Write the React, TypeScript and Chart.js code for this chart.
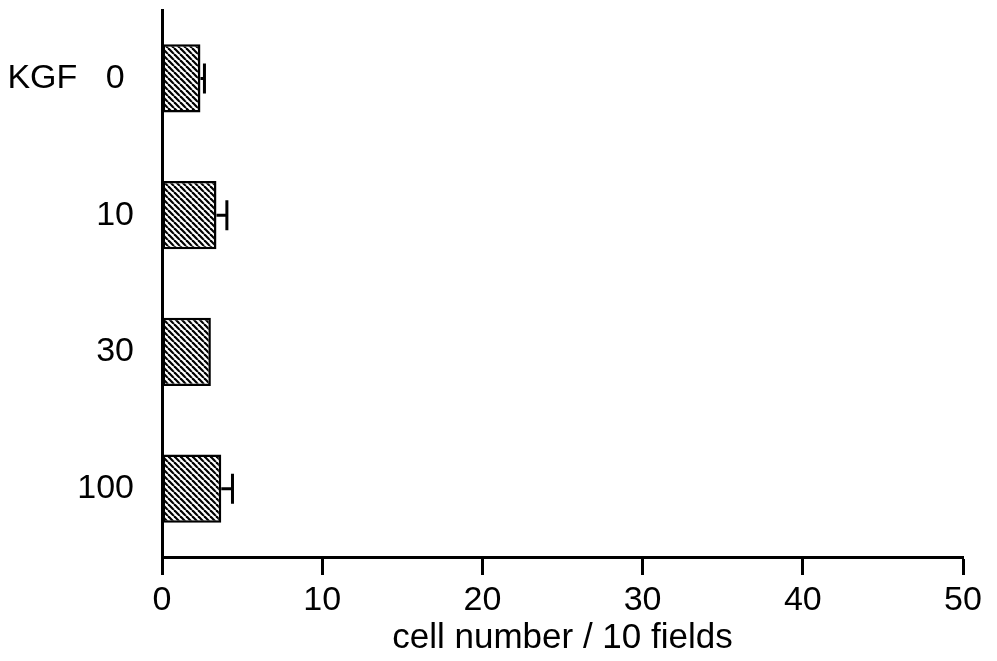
import React, { useEffect, useRef } from "react";
import { Chart, registerables } from "chart.js";

Chart.register(...registerables);

const categories = ["KGF   0 ", "10", "30", "100"];
const cellCounts = [2.4, 3.4, 3.05, 3.7];
const errors = [0.25, 0.65, 0, 0.7];
const xTicks = [0, 10, 20, 30, 40, 50];

function makePattern(): CanvasPattern | string {
  const s = 6;
  const c = document.createElement("canvas");
  c.width = s;
  c.height = s;
  const ctx = c.getContext("2d");
  if (!ctx) return "#888";
  ctx.fillStyle = "#fff";
  ctx.fillRect(0, 0, s, s);
  ctx.strokeStyle = "#000";
  ctx.lineWidth = 2.2;
  for (const k of [-s, 0, s]) {
    ctx.beginPath();
    ctx.moveTo(k, 0);
    ctx.lineTo(k + s, s);
    ctx.stroke();
  }
  return ctx.createPattern(c, "repeat") || "#888";
}

const errorBarPlugin = {
  id: "errorBars",
  afterDatasetsDraw(chart: any) {
    const ctx = chart.ctx;
    const meta = chart.getDatasetMeta(0);
    const xs = chart.scales.x;
    ctx.save();
    ctx.strokeStyle = "#000";
    ctx.lineWidth = 3;
    meta.data.forEach((bar: any, i: number) => {
      const e = errors[i];
      if (!e) return;
      const v = cellCounts[i];
      const x0 = xs.getPixelForValue(v);
      const x1 = xs.getPixelForValue(v + e);
      const y = bar.y;
      ctx.beginPath();
      ctx.moveTo(x0, y);
      ctx.lineTo(x1, y);
      ctx.moveTo(x1, y - 15);
      ctx.lineTo(x1, y + 15);
      ctx.stroke();
    });
    ctx.restore();
  },
};

export default function App() {
  const ref = useRef<HTMLCanvasElement | null>(null);
  useEffect(() => {
    if (!ref.current) return;
    const fam = "'Liberation Sans', Arial, sans-serif";
    const chart = new Chart(ref.current, {
      type: "bar",
      data: {
        labels: categories,
        datasets: [
          {
            data: cellCounts,
            backgroundColor: makePattern() as any,
            borderColor: "#000",
            borderWidth: 2.5,
            borderSkipped: false,
            barPercentage: 0.5,
            categoryPercentage: 1,
          },
        ],
      },
      options: {
        indexAxis: "y",
        animation: false,
        responsive: false,
        layout: { padding: { top: 10, right: 34, left: 0, bottom: 0 } },
        plugins: { legend: { display: false }, tooltip: { enabled: false } },
        scales: {
          x: {
            type: "linear",
            min: 0,
            max: 50,
            afterBuildTicks: (axis: any) => {
              axis.ticks = xTicks.map((v) => ({ value: v }));
            },
            afterFit: (axis: any) => {
              axis.height = 104;
            },
            grid: {
              drawOnChartArea: false,
              drawTicks: true,
              tickLength: 18,
              tickColor: "#000",
              tickWidth: 3,
            },
            border: { display: true, color: "#000", width: 3 },
            ticks: { color: "#000", font: { family: fam, size: 34 }, padding: 5, maxRotation: 0 },
            title: {
              display: true,
              text: "cell number / 10 fields",
              color: "#000",
              font: { family: fam, size: 35 },
              padding: { top: 0, bottom: 2 },
            },
          },
          y: {
            type: "category",
            afterFit: (axis: any) => {
              axis.width = 162;
              axis.paddingTop = 0;
              axis.paddingBottom = 0;
            },
            grid: { display: false, drawTicks: false },
            border: { display: true, color: "#000", width: 3 },
            ticks: { color: "#000", font: { family: fam, size: 34 }, padding: 28 },
          },
        },
      },
      plugins: [errorBarPlugin],
    });
    return () => chart.destroy();
  }, []);
  return (
    <div style={{ position: "absolute", left: 0, top: 0, width: 997, height: 661, background: "#fff" }}>
      <canvas ref={ref} width={997} height={661} style={{ width: 997, height: 661 }} />
    </div>
  );
}
